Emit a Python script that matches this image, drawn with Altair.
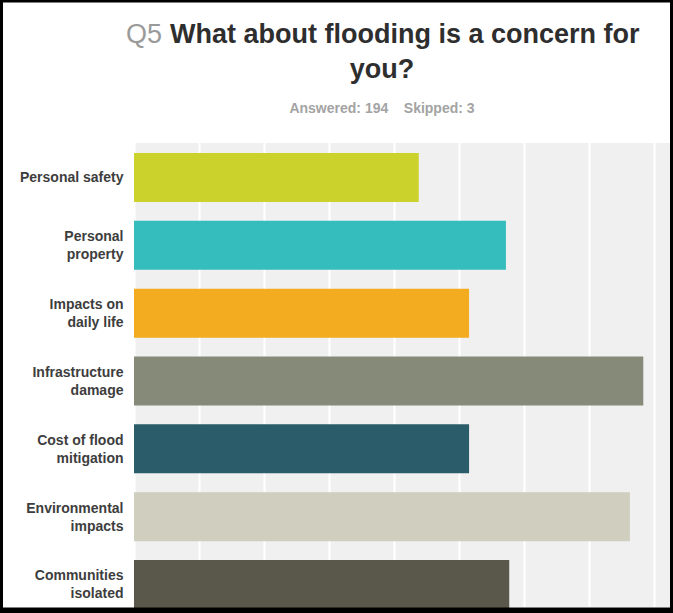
import altair as alt
import pandas as pd

# ---- data ----
categories = [
    "Personal safety",
    "Personal\nproperty",
    "Impacts on\ndaily life",
    "Infrastructure\ndamage",
    "Cost of flood\nmitigation",
    "Environmental\nimpacts",
    "Communities\nisolated",
]
percents = [43.81, 57.22, 51.55, 78.35, 51.55, 76.29, 57.73]
bar_colors = ["#cbd22c", "#35bdbe", "#f3ab1f", "#868a79", "#2b5c6a", "#cfcebf", "#5a584b"]
grid_values = [0, 10, 20, 30, 40, 50, 60, 70, 80]

q_label = "Q5"
title_line1 = "What about flooding is a concern for"
title_line2 = "you?"
subtitle = "Answered: 194\u00a0\u00a0\u00a0\u00a0Skipped: 3"

FONT = "Liberation Sans"

df = pd.DataFrame({"label": categories, "value": percents})

W, H = 536, 464

bars = alt.Chart(df).mark_bar().encode(
    x=alt.X(
        "value:Q",
        scale=alt.Scale(domain=[0, W / 6.5], nice=False, zero=True),
        axis=alt.Axis(
            values=grid_values, labels=False, ticks=False, domain=False,
            grid=True, gridColor="white", gridWidth=2, title=None,
        ),
    ),
    y=alt.Y(
        "label:N",
        sort=categories,
        scale=alt.Scale(range=[0, 476], paddingInner=0.277, paddingOuter=0.1475),
        axis=alt.Axis(
            title=None, ticks=False, domain=False, grid=False,
            labelPadding=11, labelFontSize=14, labelFontWeight="bold",
            labelColor="#3d3d3d", labelFont=FONT, labelLimit=200,
            labelLineHeight=18, labelExpr="split(datum.label, '\\n')",
            labelOffset=alt.condition("indexof(datum.value, '\\n') >= 0", alt.value(-8), alt.value(0)),
        ),
    ),
    color=alt.Color("label:N", scale=alt.Scale(domain=categories, range=bar_colors), legend=None),
)


def text_layer(txt, x, y, size, color, weight, align):
    return alt.Chart(pd.DataFrame({"t": [txt]})).mark_text(
        font=FONT, fontSize=size, color=color, fontWeight=weight,
        align=align, baseline="alphabetic",
    ).encode(text="t:N", x=alt.value(x), y=alt.value(y))


q_text = text_layer(q_label, -8, -100, 27, "#9a9a9a", "normal", "left")
t1 = text_layer(title_line1, 36, -100, 27, "#2e2e2e", "bold", "left")
t2 = text_layer(title_line2, 248, -65, 27, "#2e2e2e", "bold", "center")
sub = text_layer(subtitle, 248, -30, 14, "#a3a3a3", "bold", "center")

frame = alt.Chart(pd.DataFrame({"a": [0]})).mark_rect(
    fillOpacity=0, stroke="black", strokeWidth=3
).encode(x=alt.value(-132.5), x2=alt.value(537.5), y=alt.value(-142), y2=alt.value(466))

bottom_bar = alt.Chart(pd.DataFrame({"a": [0]})).mark_rect(color="black").encode(
    x=alt.value(-134), x2=alt.value(539), y=alt.value(465), y2=alt.value(470)
)

chart = alt.layer(bars, q_text, t1, t2, sub, frame, bottom_bar).properties(
    width=W, height=H,
    autosize=alt.AutoSizeParams(type="none"),
    padding={"left": 134, "top": 143, "right": 3, "bottom": 6},
    background="white",
).configure_view(stroke=None, fill="#f0f0f0")

chart.save("out.html", embed_options={"renderer": "svg", "actions": False})
